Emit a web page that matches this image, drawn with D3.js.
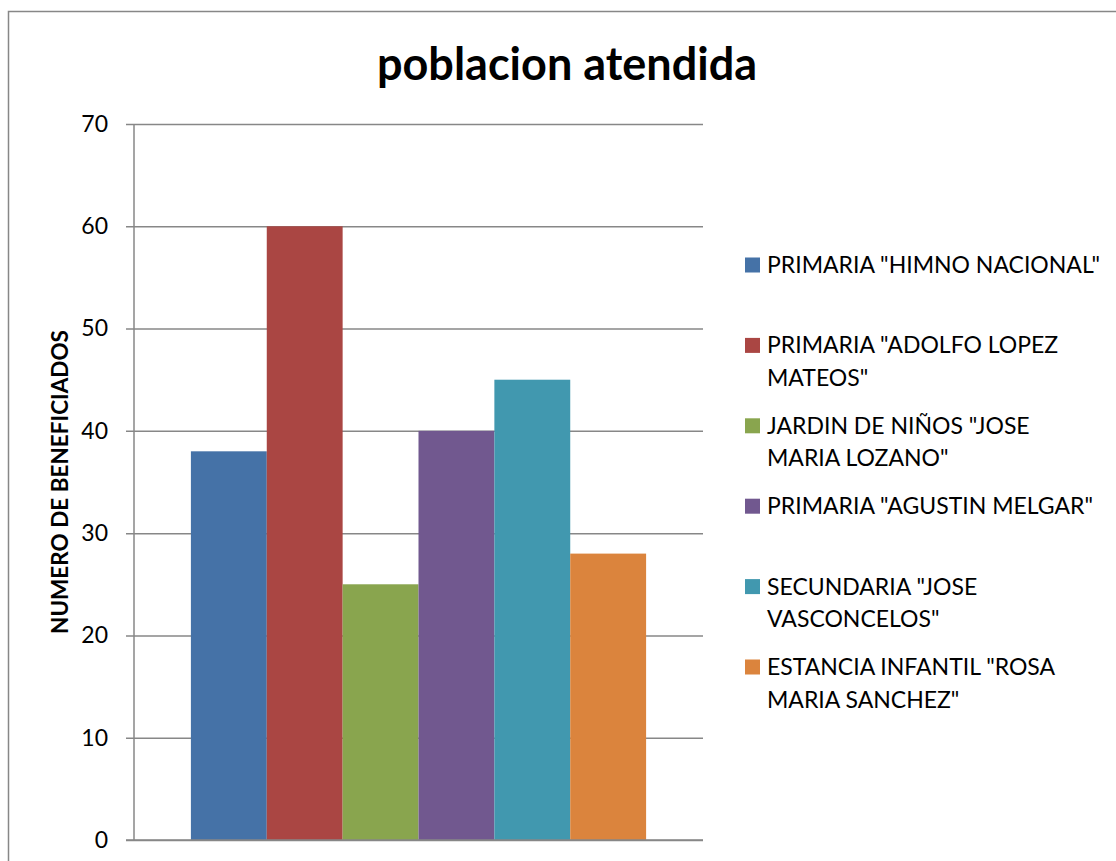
<!DOCTYPE html>
<html>
<head>
<meta charset="utf-8">
<script src="https://cdn.jsdelivr.net/npm/d3@7"></script>
<style>
	body { margin: 0; background: #fff; }
	text { font-family: Lato, "Open Sans", sans-serif; fill: #000; }
</style>
</head>
<body>
<div id="divplot"></div>
<script>
// poblacion atendida

const categories = ['']
const series = [
	'PRIMARIA "HIMNO NACIONAL"',
	'PRIMARIA "ADOLFO LOPEZ MATEOS"',
	'JARDIN DE NIÑOS "JOSE MARIA LOZANO"',
	'PRIMARIA "AGUSTIN MELGAR"',
	'SECUNDARIA "JOSE VASCONCELOS"',
	'ESTANCIA INFANTIL "ROSA MARIA SANCHEZ"'
]
const legendLines = [
	['PRIMARIA "HIMNO NACIONAL"'],
	['PRIMARIA "ADOLFO LOPEZ', 'MATEOS"'],
	['JARDIN DE NIÑOS "JOSE', 'MARIA LOZANO"'],
	['PRIMARIA "AGUSTIN MELGAR"'],
	['SECUNDARIA "JOSE', 'VASCONCELOS"'],
	['ESTANCIA INFANTIL "ROSA', 'MARIA SANCHEZ"']
]
const values = [38, 60, 25, 40, 45, 28]
const yTicks = [0, 10, 20, 30, 40, 50, 60, 70]
const colors = ['#4572a7', '#aa4643', '#89a54e', '#71588f', '#4198af', '#db843d']

const plot = () => {

	let width = 1116
	let height = 861
	let left = 134, right = 703, top = 124, bottom = 840

	let svg = d3.select('#divplot')
		.append('svg')
		.attr('width', width)
		.attr('height', height)

	// chart border
	svg.append('rect')
		.attr('x', 8.5)
		.attr('y', 11.5)
		.attr('width', 1130)
		.attr('height', 880)
		.attr('fill', 'none')
		.attr('stroke', '#878787')
		.attr('stroke-width', 1.5)

	svg.append('text')
		.attr('x', 567)
		.attr('y', 80)
		.attr('text-anchor', 'middle')
		.attr('style', 'font-size: 45px; font-weight: bold')
		.text('poblacion atendida')

	let yScale = d3.scaleLinear()
		.domain([0, 70])
		.range([bottom, top])

	let xScale = d3.scaleBand()
		.domain(categories)
		.range([left, right])

	// one category, six bars, gap of 150% of a bar
	let inner = d3.scaleBand()
		.domain(series)
		.range([0, xScale.bandwidth()])
		.paddingInner(0)
		.paddingOuter(0.75)

	// gridlines
	let yAxis = d3.axisLeft(yScale)
		.tickValues(yTicks)
		.tickSize(-(right - left))
		.tickPadding(26)
	let g = svg.append('g')
		.attr('transform', `translate(${left},0)`)
		.call(yAxis)
	g.select('.domain').remove()
	g.selectAll('.tick line')
		.attr('x1', -8)
		.attr('stroke', '#878787')
		.attr('stroke-width', 1.5)
	g.selectAll('.tick text')
		.attr('style', 'font-size: 23px; font-family: Lato')
		.attr('fill', '#000')

	svg.append('line')
		.attr('x1', left).attr('x2', left)
		.attr('y1', top).attr('y2', bottom)
		.attr('stroke', '#878787')
		.attr('stroke-width', 1.5)

	svg.selectAll('rect.bar')
		.data(values)
		.enter()
		.append('rect')
		.attr('class', 'bar')
		.attr('x', (d, i) => xScale(categories[0]) + inner(series[i]))
		.attr('y', d => yScale(d))
		.attr('width', inner.bandwidth())
		.attr('height', d => yScale(0) - yScale(d))
		.attr('fill', (d, i) => colors[i])

	// baseline over bars
	svg.append('line')
		.attr('x1', left - 8).attr('x2', right)
		.attr('y1', bottom).attr('y2', bottom)
		.attr('stroke', '#878787')
		.attr('stroke-width', 1.5)

	svg.append('text')
		.attr('transform', 'translate(68,482) rotate(-90)')
		.attr('text-anchor', 'middle')
		.attr('style', 'font-size: 22.5px; font-weight: bold')
		.text('NUMERO DE BENEFICIADOS')

	let legend = svg.append('g')
	let entry = legend.selectAll('g')
		.data(legendLines)
		.enter()
		.append('g')
		.attr('transform', (d, i) => `translate(745,${265 + i * 80.4})`)
	entry.append('rect')
		.attr('x', 0)
		.attr('y', -7.5)
		.attr('width', 15)
		.attr('height', 15)
		.attr('fill', (d, i) => colors[i])
	entry.selectAll('text')
		.data(d => d)
		.enter()
		.append('text')
		.attr('x', 22)
		.attr('y', (d, i) => 8 + i * 32.5)
		.attr('style', 'font-size: 23px')
		.text(d => d)
}

plot()
</script>
</body>
</html>
